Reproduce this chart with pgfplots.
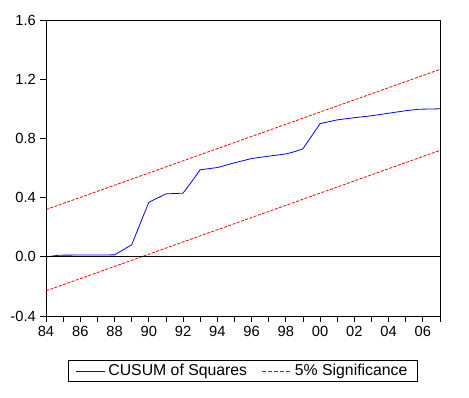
\documentclass[border=0pt]{standalone}
\usepackage{fontspec}
\setmainfont{Liberation Sans}
\usepackage{pgfplots}
\pgfplotsset{compat=1.18}
\begin{document}
\begin{tikzpicture}
\begin{axis}[
  scale only axis,
  width=394bp, height=296bp,
  xmin=1984, xmax=2007,
  ymin=-0.4, ymax=1.6,
  axis line style={line width=0.8bp, black},
  xtick={1984,1986,...,2006},
  xticklabels={84,86,88,90,92,94,96,98,00,02,04,06},
  minor xtick={1985,1987,...,2007},
  ytick={-0.4,0,0.4,0.8,1.2,1.6},
  yticklabels={-0.4,0.0,0.4,0.8,1.2,1.6},
  tick align=outside,
  xtick pos=bottom, ytick pos=left,
  major tick length=6bp, minor tick length=6bp,
  every tick/.style={black, line width=0.8bp},
  minor tick style={black, line width=0.8bp},
  tick label style={font=\fontsize{14.7bp}{17bp}\selectfont, black, inner sep=4bp},
  legend columns=2,
  legend style={
    at={(0.5,-0.1858)}, anchor=center,
    draw=black, line width=0.8bp,
    font=\fontsize{15.8bp}{18bp}\selectfont,
    inner xsep=6.5bp, inner ysep=0.5bp,
    nodes={inner xsep=3.5bp, inner ysep=3.8bp},
    /tikz/every even column/.append style={column sep=11bp},
  },
  legend image code/.code={\draw[#1] (0bp,0bp) -- (29bp,0bp);},
]
\addplot[blue, line width=0.8bp] coordinates {
(1984,0) (1984.25,0.003) (1984.75,0.011) (1988,0.013) (1989,0.081) (1990,0.368)
(1991,0.425) (1992,0.43) (1992.55,0.515) (1993,0.588) (1994,0.603) (1995,0.635)
(1996,0.664) (1997,0.68) (1998,0.695) (1998.5,0.71) (1999,0.73) (2000,0.90)
(2001,0.925) (2002,0.94) (2003,0.953) (2004,0.97) (2005,0.987) (2005.75,0.997) (2007,1.0)
};
\addlegendentry{CUSUM of Squares}
\addlegendimage{red, line width=0.8bp, dash pattern=on 4bp off 2bp}
\addlegendentry{5\% Significance}
\addplot[red, line width=0.8bp, dash pattern=on 3bp off 1.5bp, forget plot] coordinates {
(1984,0.319) (2007,1.266)
};
\addplot[red, line width=0.8bp, dash pattern=on 3bp off 1.5bp, forget plot] coordinates {
(1984,-0.23) (2007,0.719)
};
\addplot[black, line width=0.8bp, forget plot] coordinates {(1984,0) (2007,0)};
\end{axis}
\pgfresetboundingbox
\path (-46bp,-82bp) rectangle (423bp,316bp);
\end{tikzpicture}
\end{document}
